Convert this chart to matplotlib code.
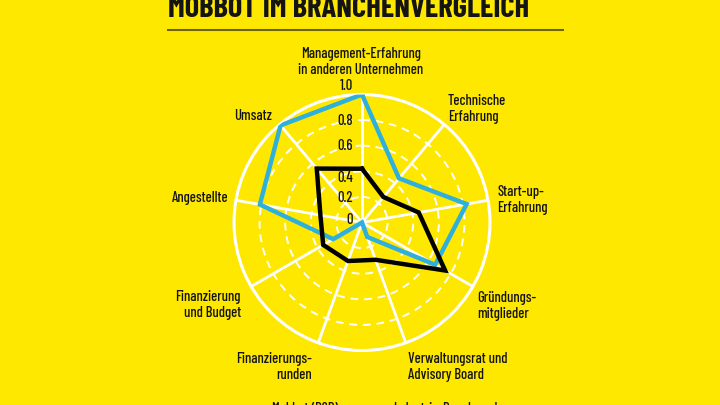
import numpy as np
import matplotlib
matplotlib.use("Agg")
import matplotlib.pyplot as plt
from matplotlib.lines import Line2D

# categories, clockwise from top
categories = [
    "Management-Erfahrung\nin anderen Unternehmen",
    "Technische\nErfahrung",
    "Start-up-\nErfahrung",
    "Gründungs-\nmitglieder",
    "Verwaltungsrat und\nAdvisory Board",
    "Finanzierungs-\nrunden",
    "Finanzierung\nund Budget",
    "Angestellte",
    "Umsatz",
]
mobbot = [1.0, 0.45, 0.83, 0.66, 0.12, 0.0, 0.26, 0.81, 0.99]
benchmark = [0.42, 0.26, 0.45, 0.75, 0.31, 0.32, 0.35, 0.33, 0.55]
r_ticks = [0, 0.2, 0.4, 0.6, 0.8, 1.0]
r_ticklabels = ["0", "0.2", "0.4", "0.6", "0.8", "1.0"]
series_names = ["Mobbot (B2B)", "Industrie-Benchmark"]
title = "MOBBOT IM BRANCHENVERGLEICH"

YELLOW = "#ffe800"
BLUE = "#2fb0dc"
INK = "#141414"
plt.rcParams["font.family"] = ["Barlow Condensed", "DejaVu Sans"]

fig = plt.figure(figsize=(7.2, 4.05), dpi=100)
fig.patch.set_facecolor(YELLOW)

# center at (362, 222.5) px, radius 128 px
W, H, R = 720.0, 405.0, 128.0
cx, cy = 362.0, 222.5
ax = fig.add_axes([(cx - R) / W, (H - cy - R) / H, 2 * R / W, 2 * R / H],
                  projection="polar")
ax.set_facecolor(YELLOW)
ax.set_theta_zero_location("N")
ax.set_theta_direction(-1)

n = len(categories)
angles = np.arange(n) * 2 * np.pi / n

ax.set_ylim(0, 1)
ax.set_xticks(angles)
ax.set_xticklabels([])
ax.set_yticks(r_ticks[1:-1])
ax.set_yticklabels([])
ax.xaxis.grid(True, color="white", lw=2, ls="-")
ax.yaxis.grid(True, color="white", lw=1.4, ls=(0, (4, 3)))
ax.spines["polar"].set_color("white")
ax.spines["polar"].set_linewidth(2.2)
ax.tick_params(length=0)

# closed polygons
a_closed = np.append(angles, angles[0])
ax.plot(a_closed, mobbot + mobbot[:1], color=BLUE, lw=3.2, zorder=4,
        solid_joinstyle="miter")
ax.plot(a_closed, benchmark + benchmark[:1], color="black", lw=3.2, zorder=5,
        solid_joinstyle="miter")

# radial tick labels left of the top spoke
label_r = [0.02, 0.19, 0.35, 0.6, 0.79, 1.07]
for lr, lbl in zip(label_r, r_ticklabels):
    y = cy - lr * R
    fig.text(353 / W, 1 - y / H, lbl, ha="right", va="center",
             fontsize=10.5, fontweight="medium", color=INK)

# category labels (pixel anchors)
cat_pos = [
    (361, 62, "center"),
    (448, 109, "left"),
    (497, 200, "left"),
    (477, 306, "left"),
    (408, 367, "left"),
    (312, 367, "right"),
    (241, 305, "right"),
    (228, 198, "right"),
    (272, 116, "right"),
]
for lbl, (x, y, ha) in zip(categories, cat_pos):
    fig.text(x / W, 1 - y / H, lbl, ha=ha, va="center", fontsize=10.5,
             fontweight="medium", color=INK, multialignment=ha,
             linespacing=1.15)

# title, cut at the top edge as in the source
fig.text(168 / W, 1 - 17 / H, title, ha="left", va="baseline",
         fontsize=22, fontweight="bold", color=INK)
fig.add_artist(Line2D([168 / W, 563 / W], [1 - 30 / H, 1 - 30 / H],
                      color="#6b6400", lw=1.5))

# legend labels, cut at the bottom edge
fig.text(272 / W, 1 - 402 / H, series_names[0], ha="left", va="top",
         fontsize=10.5, fontweight="medium", color=INK)
fig.text(393 / W, 1 - 402 / H, series_names[1], ha="left", va="top",
         fontsize=10.5, fontweight="medium", color=INK)

fig.savefig("out.png", dpi=100, facecolor=YELLOW)
